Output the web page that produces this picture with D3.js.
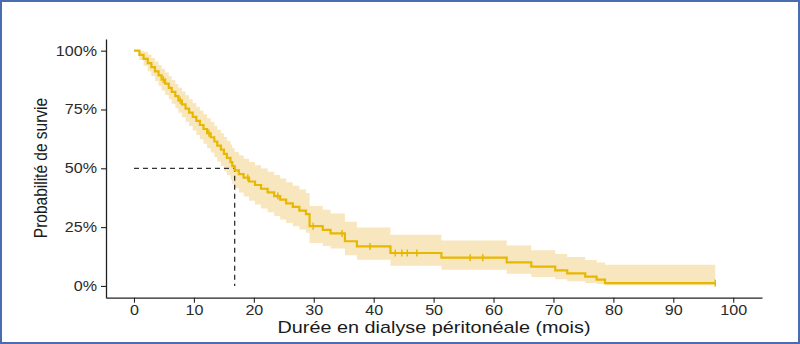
<!DOCTYPE html>
<html><head><meta charset="utf-8">
<script src="https://cdn.jsdelivr.net/npm/d3@7"></script>
<style>body{margin:0;background:#fff} svg{display:block}</style></head>
<body>
<svg id="c" width="800" height="344"></svg>
<script>
// Kaplan-Meier steps (months, survival %)
const times = [0,0.9,1.6,2.3,2.9,3.5,4.1,4.6,5.2,5.8,6.3,6.9,7.4,8.0,8.6,9.2,9.8,10.4,11.0,11.6,12.2,12.8,13.4,13.9,14.5,15.0,15.5,16.1,16.4,16.8,17.5,18.3,19.2,20.2,21.2,22.3,23.4,24.4,25.4,26.5,27.6,28.7,29.3,31.5,32.8,35.2,37.2,42.8,51.3,62.2,66.3,70.3,72.3,75.3,77.2,78.6,97];
const surv = [100,98.2,96.5,94.7,93.0,91.2,89.5,87.7,86.0,84.2,82.5,80.7,78.9,77.2,75.4,73.7,71.9,70.2,68.4,66.7,64.9,63.2,61.4,59.6,57.9,56.1,54.4,52.6,50.9,49.1,47.5,46.0,44.4,42.9,41.3,39.8,38.2,36.7,35.1,33.6,32.0,30.5,25.4,23.8,22.3,19.0,16.8,14.0,12.0,10.0,8.2,6.6,5.3,4.0,2.7,1.2,1.2];
const upper = [100,100,99.5,98.3,96.9,95.4,93.9,92.3,90.7,89.1,87.5,85.8,84.2,82.6,81.0,79.4,77.8,76.2,74.6,73.0,71.3,69.7,68.1,66.4,64.9,63.3,61.7,60.1,58.5,56.9,55.5,54.1,52.7,51.3,49.9,48.5,47.1,45.7,44.1,42.6,41.0,39.5,34.0,32.4,30.8,27.3,24.8,21.8,19.3,17.2,15.2,13.6,12.3,11.0,10.0,9.0,9.0];
const lower = [100,96.0,93.6,91.3,89.2,87.1,85.1,83.1,81.2,79.3,77.4,75.5,73.6,71.7,69.8,68.0,66.1,64.2,62.3,60.4,58.5,56.7,54.8,52.9,51.0,49.0,47.1,45.2,43.4,41.5,39.7,38.0,36.2,34.6,32.9,31.3,29.7,28.2,26.7,25.4,24.0,22.6,18.3,17.0,15.9,13.0,11.1,8.6,6.9,5.2,3.8,2.8,2.0,1.3,0.8,0.3,0.3];
const censorTimes = [4.9,7.7,12.5,19.0,24.0,29.9,34.7,39.4,43.6,44.7,45.6,47.2,56.1,58.2,97];
const xTicks = [0,10,20,30,40,50,60,70,80,90,100];
const yTicks = [0,25,50,75,100];
const medianTime = 16.8, medianSurv = 50;
const xTitle = "Durée en dialyse péritonéale (mois)";
const yTitle = "Probabilité de survie";

const svg = d3.select("#c");
const lineColor = "#E7B800";
const bandColor = "#F8E6BE";
const font = "'Liberation Sans', Arial, sans-serif";
const stretch = 1.15;

svg.append("rect").attr("x",1).attr("y",1).attr("width",798).attr("height",342)
  .attr("fill","#fff").attr("stroke","#4A6CB3").attr("stroke-width",2);

const x = d3.scaleLinear().domain([-4.67,104.8]).range([106,762]);
const y = d3.scaleLinear().domain([-5,105]).range([297.7,38.9]);

const data = times.map((t,i)=>({t, s:surv[i], u:upper[i], l:lower[i]}));

svg.append("path").datum(data)
  .attr("d", d3.area().curve(d3.curveStepAfter).x(d=>x(d.t)).y0(d=>y(d.l)).y1(d=>y(d.u)))
  .attr("fill", bandColor);

// median lines
svg.append("path")
  .attr("d", `M${x(0)},${y(medianSurv)}H${x(medianTime)}V${y(0)}`)
  .attr("fill","none").attr("stroke","#333").attr("stroke-width",1.3).attr("stroke-dasharray","5,4");

svg.append("path").datum(data)
  .attr("d", d3.line().curve(d3.curveStepAfter).x(d=>x(d.t)).y(d=>y(d.s)))
  .attr("fill","none").attr("stroke",lineColor).attr("stroke-width",2.2);

const survAt = t => surv[Math.max(0, d3.bisectRight(times, t)-1)];
svg.append("g").selectAll("line").data(censorTimes).join("line")
  .attr("x1",d=>x(d)).attr("x2",d=>x(d))
  .attr("y1",d=>y(survAt(d))-3.5).attr("y2",d=>y(survAt(d))+3.5)
  .attr("stroke",lineColor).attr("stroke-width",1.5);

// axes
const gx = svg.append("g").attr("transform",`translate(0,${y.range()[0]})`)
  .call(d3.axisBottom(x).tickValues(xTicks).tickSize(5).tickSizeOuter(0).tickPadding(2.5));
const gy = svg.append("g").attr("transform",`translate(${x.range()[0]},0)`)
  .call(d3.axisLeft(y).tickValues(yTicks).tickFormat(d=>d+"%").tickSize(5).tickSizeOuter(0).tickPadding(4));
[gx,gy].forEach(g=>{
  g.select(".domain").attr("stroke","#222").attr("stroke-width",1.3);
  g.selectAll(".tick line").attr("stroke","#222").attr("stroke-width",1.1);
  g.selectAll("text").attr("font-family",font).attr("font-size",14).attr("fill","#2a2a2a")
    .attr("transform",`scale(${stretch},1)`);
});
gy.selectAll("text").attr("x",-9/stretch);

svg.append("text").attr("transform",`translate(434,333) scale(1.24,1)`).attr("text-anchor","middle")
  .attr("font-family",font).attr("font-size",16).attr("fill","#1a1a1a").text(xTitle);
svg.append("text").attr("transform","translate(47,168) rotate(-90) scale(1,1.15)").attr("text-anchor","middle")
  .attr("font-family",font).attr("font-size",15.5).attr("fill","#1a1a1a").text(yTitle);
</script>
</body></html>
